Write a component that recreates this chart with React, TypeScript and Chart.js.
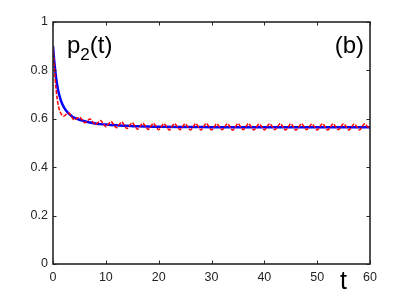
import React, { useEffect, useRef } from "react";
import { Chart, registerables } from "chart.js";

Chart.register(...registerables);

// Red dashed series: sampled every 0.5 time units from t = 0 to t = 60
const redStep = 0.5;
const redValues = [
  0.900, 0.740, 0.655, 0.622, 0.611, 0.618, 0.624, 0.609, 0.595, 0.601,
  0.607, 0.596, 0.584, 0.591, 0.599, 0.588, 0.576, 0.584, 0.593, 0.580,
  0.567, 0.578, 0.589, 0.576, 0.563, 0.575, 0.587, 0.573, 0.560, 0.572,
  0.584, 0.570, 0.557, 0.569, 0.582, 0.569, 0.556, 0.568, 0.581, 0.568,
  0.555, 0.567, 0.580, 0.567, 0.554, 0.567, 0.580, 0.568, 0.555, 0.567,
  0.579, 0.567, 0.554, 0.566, 0.580, 0.567, 0.554, 0.567, 0.581, 0.568,
  0.554, 0.566, 0.579, 0.567, 0.555, 0.567, 0.580, 0.567, 0.553, 0.566,
  0.580, 0.568, 0.555, 0.567, 0.580, 0.567, 0.554, 0.566, 0.579, 0.567,
  0.554, 0.567, 0.580, 0.568, 0.555, 0.567, 0.581, 0.567, 0.554, 0.566,
  0.580, 0.567, 0.553, 0.566, 0.580, 0.568, 0.555, 0.567, 0.579, 0.567,
  0.554, 0.567, 0.580, 0.567, 0.554, 0.566, 0.580, 0.568, 0.555, 0.567,
  0.580, 0.567, 0.554, 0.566, 0.579, 0.567, 0.554, 0.567, 0.580, 0.568,
  0.556,
];

// Blue solid series
const blueTimes = [
  0, 0.25, 0.5, 0.75, 1, 1.5, 2, 2.5, 3, 3.5, 4, 5, 6, 7, 8, 9, 10, 12, 14,
  16, 18, 20, 25, 30, 35, 40, 45, 50, 55, 60,
];
const blueValues = [
  0.900, 0.835, 0.785, 0.745, 0.715, 0.675, 0.650, 0.633, 0.621, 0.612,
  0.605, 0.596, 0.590, 0.585, 0.581, 0.578, 0.576, 0.573, 0.571, 0.569,
  0.568, 0.567, 0.566, 0.5655, 0.565, 0.565, 0.565, 0.565, 0.565, 0.565,
];

const xTicks = [0, 10, 20, 30, 40, 50, 60];
const yTicks = [0, 0.2, 0.4, 0.6, 0.8, 1];

const AXIS_COLOR = "#262626";
const FONT = "'Liberation Sans', Arial, Helvetica, sans-serif";

const boxPlugin = {
  id: "matlabBox",
  afterDraw(chart: any) {
    const { ctx, chartArea, scales } = chart;
    const { left, right, top, bottom } = chartArea;
    ctx.save();
    ctx.strokeStyle = AXIS_COLOR;
    // inward ticks
    ctx.lineWidth = 1;
    const tl = 3.5;
    ctx.beginPath();
    for (const v of xTicks) {
      const x = Math.round(scales.x.getPixelForValue(v)) + 0.5;
      ctx.moveTo(x, bottom);
      ctx.lineTo(x, bottom - tl);
      ctx.moveTo(x, top);
      ctx.lineTo(x, top + tl);
    }
    for (const v of yTicks) {
      const y = Math.round(scales.y.getPixelForValue(v)) + 0.5;
      ctx.moveTo(left, y);
      ctx.lineTo(left + tl, y);
      ctx.moveTo(right, y);
      ctx.lineTo(right - tl, y);
    }
    ctx.stroke();
    // box
    ctx.lineWidth = 1.6;
    ctx.strokeRect(left, top, right - left, bottom - top);

    // texts
    ctx.fillStyle = "#000000";
    ctx.textBaseline = "alphabetic";
    ctx.textAlign = "left";
    ctx.font = `24px ${FONT}`;
    const px = 67;
    const base = 53;
    ctx.fillText("p", px, base);
    const pw = ctx.measureText("p").width;
    ctx.font = `17px ${FONT}`;
    ctx.fillText("2", px + pw, base + 7);
    const w2 = ctx.measureText("2").width;
    ctx.font = `24px ${FONT}`;
    ctx.fillText("(t)", px + pw + w2, base);

    ctx.textAlign = "right";
    ctx.fillText("(b)", right - 6, base);

    ctx.textAlign = "center";
    ctx.font = `25px ${FONT}`;
    ctx.fillText("t", scales.x.getPixelForValue(55), 289);
    ctx.restore();
  },
};

export default function App() {
  const ref = useRef<HTMLCanvasElement | null>(null);
  useEffect(() => {
    if (!ref.current) return;
    const redData = redValues.map((v, i) => ({ x: i * redStep, y: v }));
    const blueData = blueValues.map((v, i) => ({ x: blueTimes[i], y: v }));
    const chart = new Chart(ref.current, {
      type: "line",
      data: {
        datasets: [
          {
            label: "red",
            data: redData,
            borderColor: "#ff0000",
            borderWidth: 1.5,
            borderDash: [4, 1.5],
            pointRadius: 0,
            tension: 0.35,
            fill: false,
          },
          {
            label: "blue",
            data: blueData,
            borderColor: "#0000ff",
            borderWidth: 2.5,
            pointRadius: 0,
            cubicInterpolationMode: "monotone",
            fill: false,
          },
        ],
      },
      options: {
        animation: false,
        responsive: false,
        maintainAspectRatio: false,
        devicePixelRatio: 1,
        layout: { padding: { left: 0, top: 22, right: 39, bottom: 0 } },
        plugins: {
          legend: { display: false },
          tooltip: { enabled: false },
        },
        scales: {
          x: {
            type: "linear",
            min: 0,
            max: 60,
            grid: { display: false, drawTicks: false },
            border: { display: false },
            afterBuildTicks(scale: any) {
              scale.ticks = xTicks.map((v) => ({ value: v }));
            },
            afterFit(scale: any) {
              scale.height = 34;
            },
            ticks: {
              autoSkip: false,
              maxRotation: 0,
              padding: 6,
              color: AXIS_COLOR,
              font: { family: FONT, size: 12.5 },
            },
          },
          y: {
            type: "linear",
            min: 0,
            max: 1,
            grid: { display: false, drawTicks: false },
            border: { display: false },
            afterBuildTicks(scale: any) {
              scale.ticks = yTicks.map((v) => ({ value: v }));
            },
            afterFit(scale: any) {
              scale.width = 53;
            },
            ticks: {
              autoSkip: false,
              padding: 5,
              color: AXIS_COLOR,
              font: { family: FONT, size: 12.5 },
              callback: (v: any) => String(Math.round(Number(v) * 10) / 10),
            },
          },
        },
      },
      plugins: [boxPlugin],
    });
    return () => chart.destroy();
  }, []);
  return (
    <div style={{ position: "fixed", left: 0, top: 0, width: 409, height: 298, background: "#fff" }}>
      <canvas ref={ref} width={409} height={298} style={{ width: 409, height: 298 }} />
    </div>
  );
}
